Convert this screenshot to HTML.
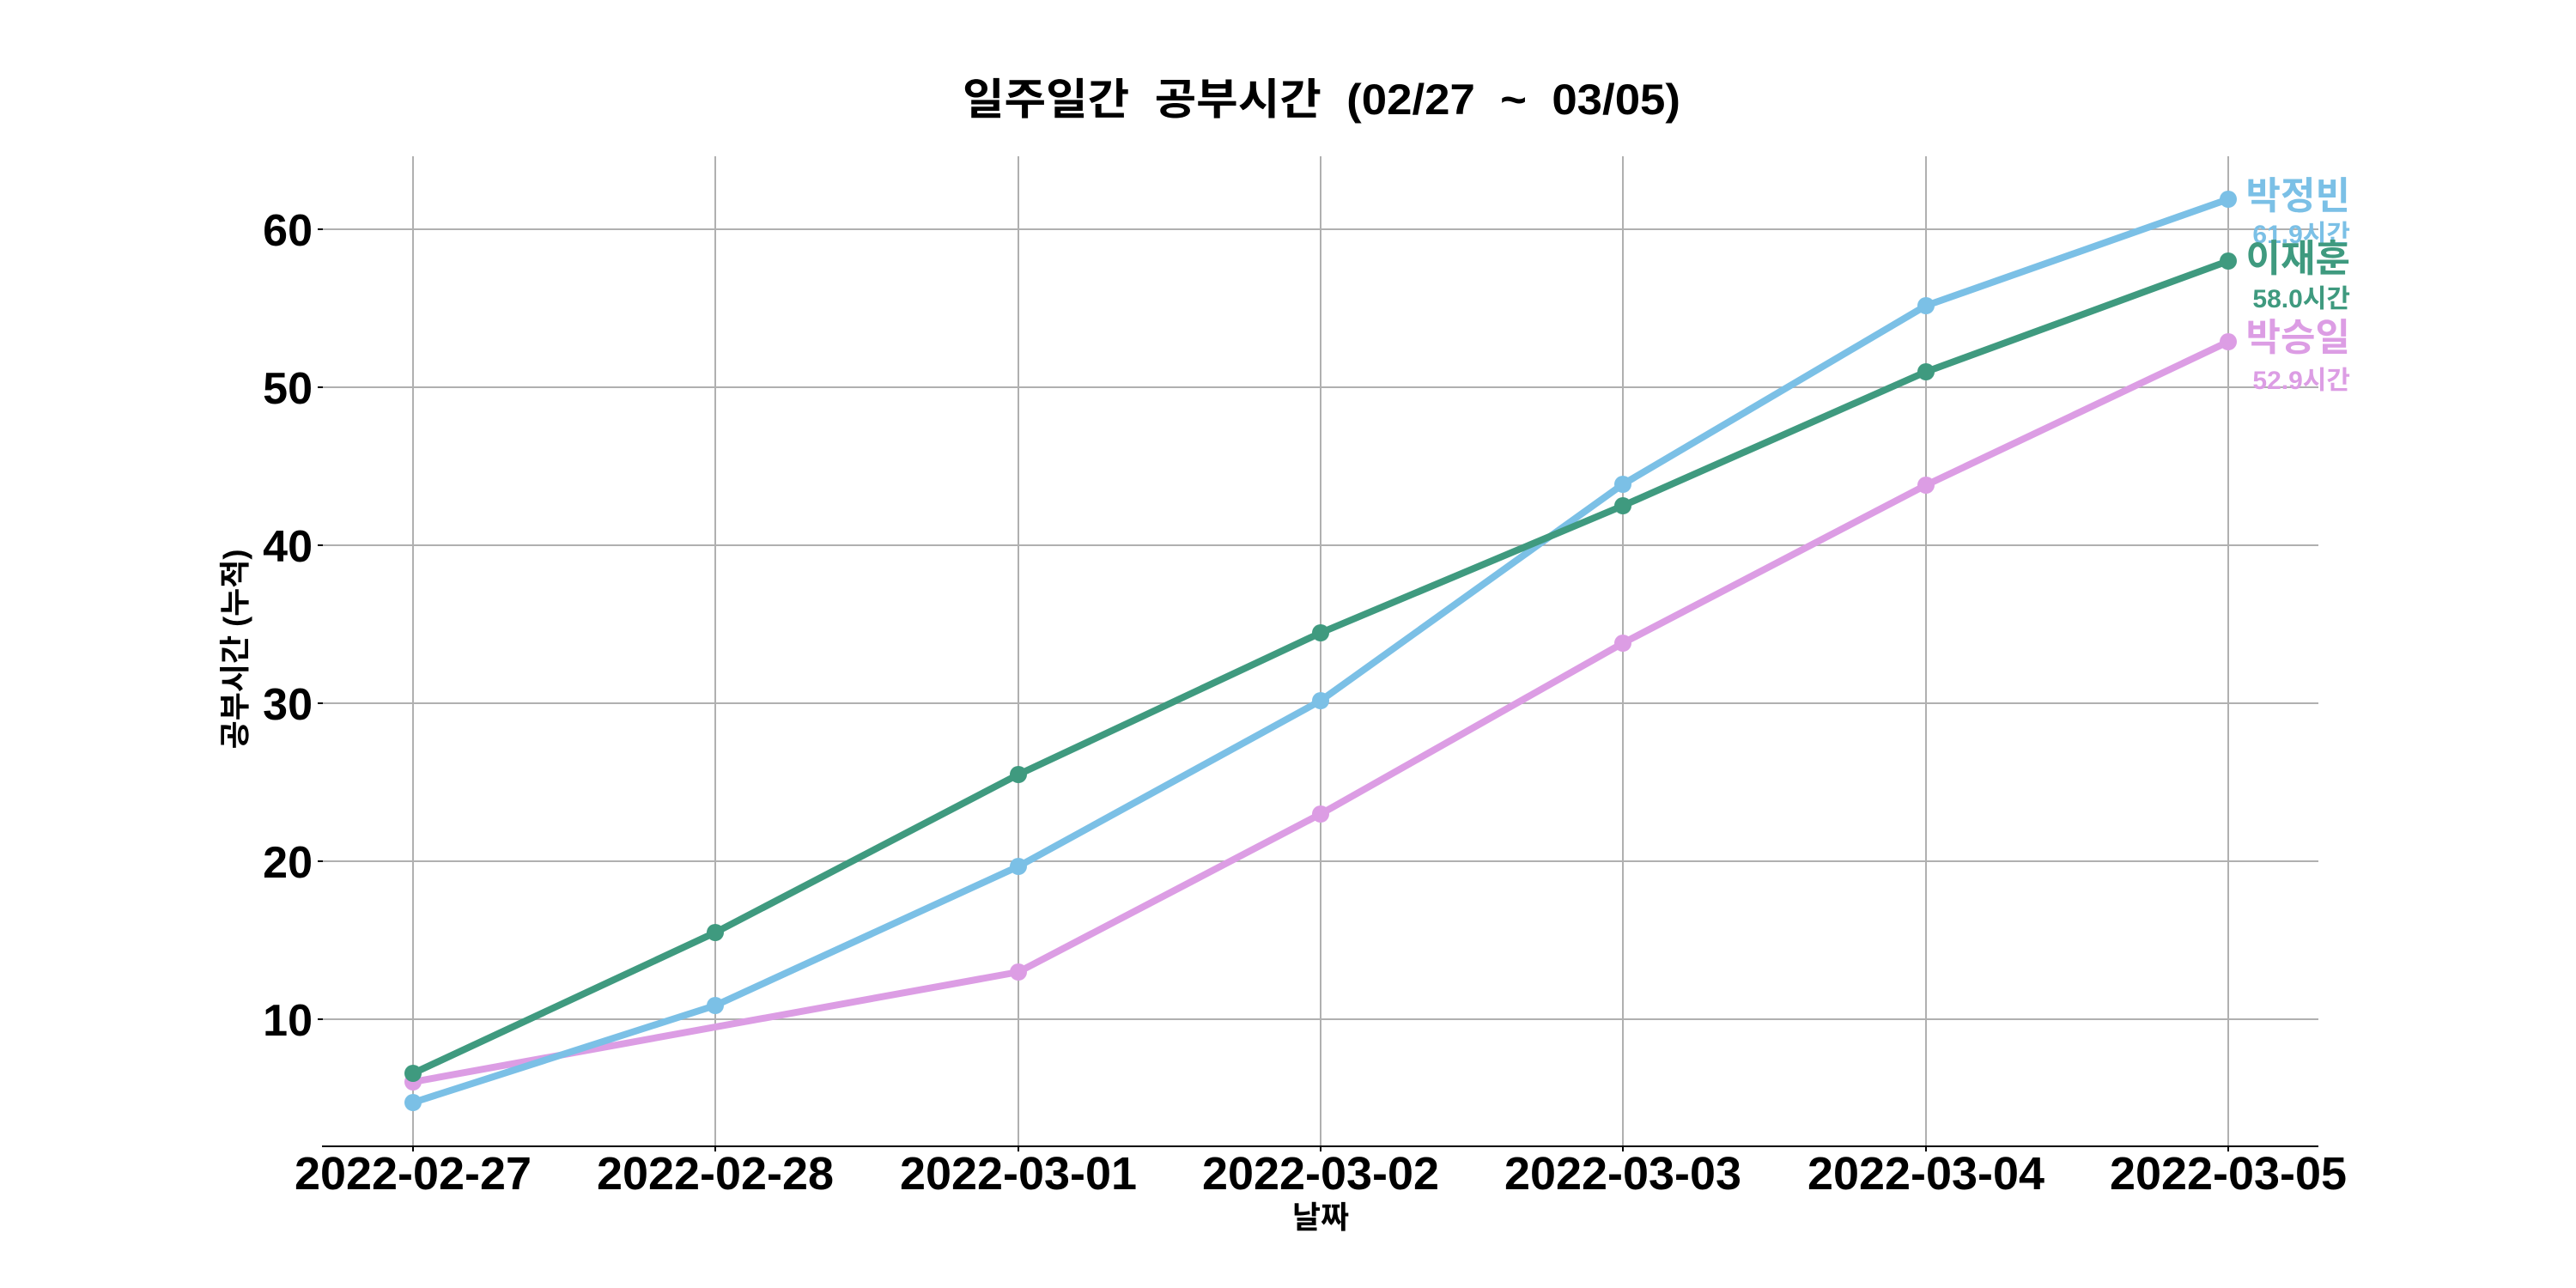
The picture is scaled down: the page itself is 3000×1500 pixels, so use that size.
<!DOCTYPE html>
<html><head><meta charset="utf-8"><style>
html,body{margin:0;padding:0;background:#fff;}
svg{display:block;}
text{font-family:"Liberation Sans","Noto Sans CJK KR",sans-serif;font-weight:bold;}
</style></head><body>
<svg width="3000" height="1500" viewBox="0 0 3000 1500" xmlns="http://www.w3.org/2000/svg">
<rect width="3000" height="1500" fill="#fff"/>
<text x="1539" y="133" font-size="50" text-anchor="middle" textLength="836" lengthAdjust="spacingAndGlyphs" xml:space="preserve">일주일간  공부시간  (02/27  ~  03/05)</text>
<g stroke="#b0b0b0" stroke-width="2">
<line x1="481" y1="182" x2="481" y2="1335"/>
<line x1="833" y1="182" x2="833" y2="1335"/>
<line x1="1186" y1="182" x2="1186" y2="1335"/>
<line x1="1538" y1="182" x2="1538" y2="1335"/>
<line x1="1890" y1="182" x2="1890" y2="1335"/>
<line x1="2243" y1="182" x2="2243" y2="1335"/>
<line x1="2595" y1="182" x2="2595" y2="1335"/>
<line x1="375" y1="267" x2="2700" y2="267"/>
<line x1="375" y1="451" x2="2700" y2="451"/>
<line x1="375" y1="635" x2="2700" y2="635"/>
<line x1="375" y1="819" x2="2700" y2="819"/>
<line x1="375" y1="1003" x2="2700" y2="1003"/>
<line x1="375" y1="1187" x2="2700" y2="1187"/>
</g>
<line x1="375" y1="1335" x2="2700" y2="1335" stroke="#000" stroke-width="2"/>
<g stroke="#000" stroke-width="2">
<line x1="370" y1="267" x2="376" y2="267"/><line x1="370" y1="451" x2="376" y2="451"/>
<line x1="370" y1="635" x2="376" y2="635"/><line x1="370" y1="819" x2="376" y2="819"/>
<line x1="370" y1="1003" x2="376" y2="1003"/><line x1="370" y1="1187" x2="376" y2="1187"/>
<line x1="481" y1="1335" x2="481" y2="1341"/><line x1="833" y1="1335" x2="833" y2="1341"/>
<line x1="1186" y1="1335" x2="1186" y2="1341"/><line x1="1538" y1="1335" x2="1538" y2="1341"/>
<line x1="1890" y1="1335" x2="1890" y2="1341"/><line x1="2243" y1="1335" x2="2243" y2="1341"/>
<line x1="2595" y1="1335" x2="2595" y2="1341"/>
</g>
<g font-size="52" text-anchor="end">
<text x="364" y="286">60</text><text x="364" y="470">50</text><text x="364" y="654">40</text>
<text x="364" y="838">30</text><text x="364" y="1022">20</text><text x="364" y="1206">10</text>
</g>
<g font-size="54" text-anchor="middle">
<text x="481" y="1385" textLength="276" lengthAdjust="spacingAndGlyphs">2022-02-27</text>
<text x="833" y="1385" textLength="276" lengthAdjust="spacingAndGlyphs">2022-02-28</text>
<text x="1186" y="1385" textLength="276" lengthAdjust="spacingAndGlyphs">2022-03-01</text>
<text x="1538" y="1385" textLength="276" lengthAdjust="spacingAndGlyphs">2022-03-02</text>
<text x="1890" y="1385" textLength="276" lengthAdjust="spacingAndGlyphs">2022-03-03</text>
<text x="2243" y="1385" textLength="276" lengthAdjust="spacingAndGlyphs">2022-03-04</text>
<text x="2595" y="1385" textLength="276" lengthAdjust="spacingAndGlyphs">2022-03-05</text>
</g>
<text x="1538" y="1430" font-size="36" text-anchor="middle">날짜</text>
<text transform="translate(286,756) rotate(-90)" font-size="36" text-anchor="middle">공부시간 (누적)</text>
<g fill="none" stroke-width="8" stroke-linejoin="round" stroke-linecap="round">
<polyline stroke="#dc9de4" points="481,1260 1186,1132 1538,948 1890,749 2243,565 2595,398"/>
<polyline stroke="#7bc0e6" points="481,1284 833,1171 1186,1009 1538,816 1890,564 2243,356 2595,232"/>
<polyline stroke="#3f9a7f" points="481,1250 833,1086 1186,902 1538,737 1890,589 2243,433 2595,304"/>
</g>
<g fill="#dc9de4"><circle cx="481" cy="1260" r="10"/><circle cx="1186" cy="1132" r="10"/><circle cx="1538" cy="948" r="10"/><circle cx="1890" cy="749" r="10"/><circle cx="2243" cy="565" r="10"/><circle cx="2595" cy="398" r="10"/></g>
<g fill="#7bc0e6"><circle cx="481" cy="1284" r="10"/><circle cx="833" cy="1171" r="10"/><circle cx="1186" cy="1009" r="10"/><circle cx="1538" cy="816" r="10"/><circle cx="1890" cy="564" r="10"/><circle cx="2243" cy="356" r="10"/><circle cx="2595" cy="232" r="10"/></g>
<g fill="#3f9a7f"><circle cx="481" cy="1250" r="10"/><circle cx="833" cy="1086" r="10"/><circle cx="1186" cy="902" r="10"/><circle cx="1538" cy="737" r="10"/><circle cx="1890" cy="589" r="10"/><circle cx="2243" cy="433" r="10"/><circle cx="2595" cy="304" r="10"/></g>
<text x="2737" y="243" font-size="44" text-anchor="end" fill="#7bc0e6">박정빈</text>
<text x="2737" y="283" font-size="30" text-anchor="end" fill="#7bc0e6">61.9시간</text>
<text x="2737" y="316" font-size="44" text-anchor="end" fill="#3f9a7f">이재훈</text>
<text x="2737" y="358" font-size="30" text-anchor="end" fill="#3f9a7f">58.0시간</text>
<text x="2737" y="408" font-size="44" text-anchor="end" fill="#dc9de4">박승일</text>
<text x="2737" y="453" font-size="30" text-anchor="end" fill="#dc9de4">52.9시간</text>
</svg>
</body></html>
